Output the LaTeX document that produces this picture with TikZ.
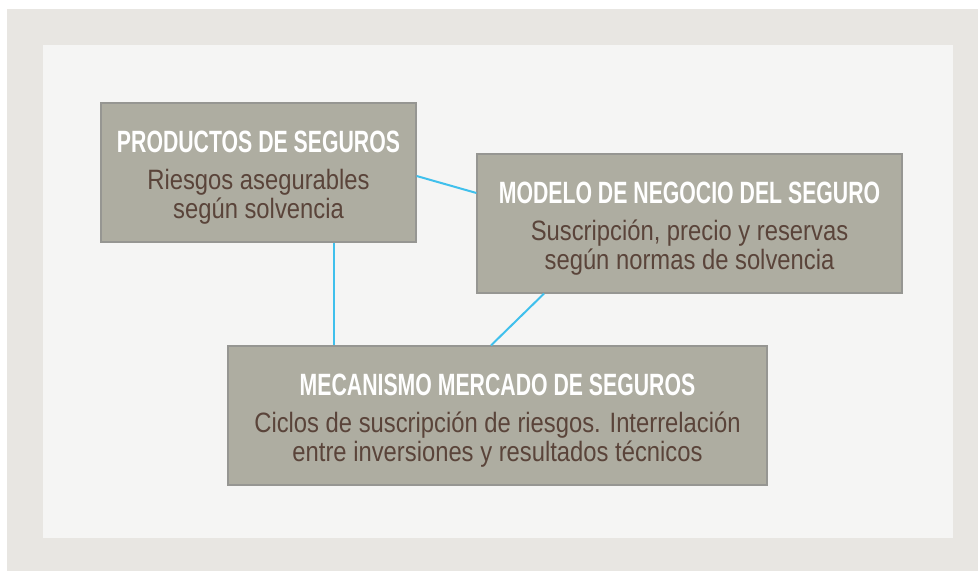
\documentclass[tikz,border=0pt]{standalone}
\usepackage{fontspec}
\usepackage{tikz}
\usepackage{xcolor}
\usetikzlibrary{positioning, calc}
\newfontfamily\ttlfont[FakeStretch=0.69]{Liberation Sans}
\newfontfamily\txtfont[FakeStretch=0.85]{Liberation Sans}
\definecolor{cOuter}{RGB}{232,230,226}
\definecolor{cPanel}{RGB}{245,245,244}
\definecolor{cBox}{RGB}{174,173,161}
\definecolor{cEdge}{RGB}{150,150,146}
\definecolor{cBody}{RGB}{90,68,58}
\definecolor{cLink}{RGB}{64,192,236}
\tikzset{
	topic/.style={rectangle, draw=cEdge, line width=0.6pt, fill=cBox, align=center, inner sep=0pt, minimum height=69.5pt},
	link/.style ={draw=cLink, line width=1pt},
}
\newcommand{\ttl}{\ttlfont\bfseries\fontsize{15.4}{18}\selectfont\color{white}\rule{0pt}{16pt}}
\newcommand{\txt}{\txtfont\fontsize{14}{14}\selectfont\color{cBody}}

\begin{document}
\begin{tikzpicture}[x=0.5pt, y=-0.5pt]
	\useasboundingbox (0,0) rectangle (978,571);
	\fill[cOuter] (7,9) rectangle (978,571);
	\fill[cPanel] (43,45) rectangle (953,538);
	\node[topic, minimum width=157.5pt] (prod) at (258.5,172.5) {\ttl PRODUCTOS DE SEGUROS\\[6.5pt]\txt Riesgos asegurables\\\txt según solvencia};
	\node[topic, minimum width=212.5pt] (neg) at (689.5,223.5) {\ttl MODELO DE NEGOCIO DEL SEGURO\\[6.5pt]\txt Suscripción, precio y reservas\\\txt según normas de solvencia};
	\node[topic, minimum width=269.5pt] (mec) at (497.5,415.5) {\ttl MECANISMO MERCADO DE SEGUROS\\[6.5pt]\txt Ciclos de suscripción de riesgos. Interrelación\\\txt entre inversiones y resultados técnicos};
	\draw[link] ([yshift=-1.75pt]prod.east) -- ([yshift=15.25pt]neg.west);
	\draw[link] ([xshift=37.75pt]prod.south) -- ([xshift=37.75pt]prod.south |- mec.north);
	\draw[link] ([xshift=-72.75pt]neg.south) -- ([xshift=-3.25pt]mec.north);
\end{tikzpicture}
\end{document}
